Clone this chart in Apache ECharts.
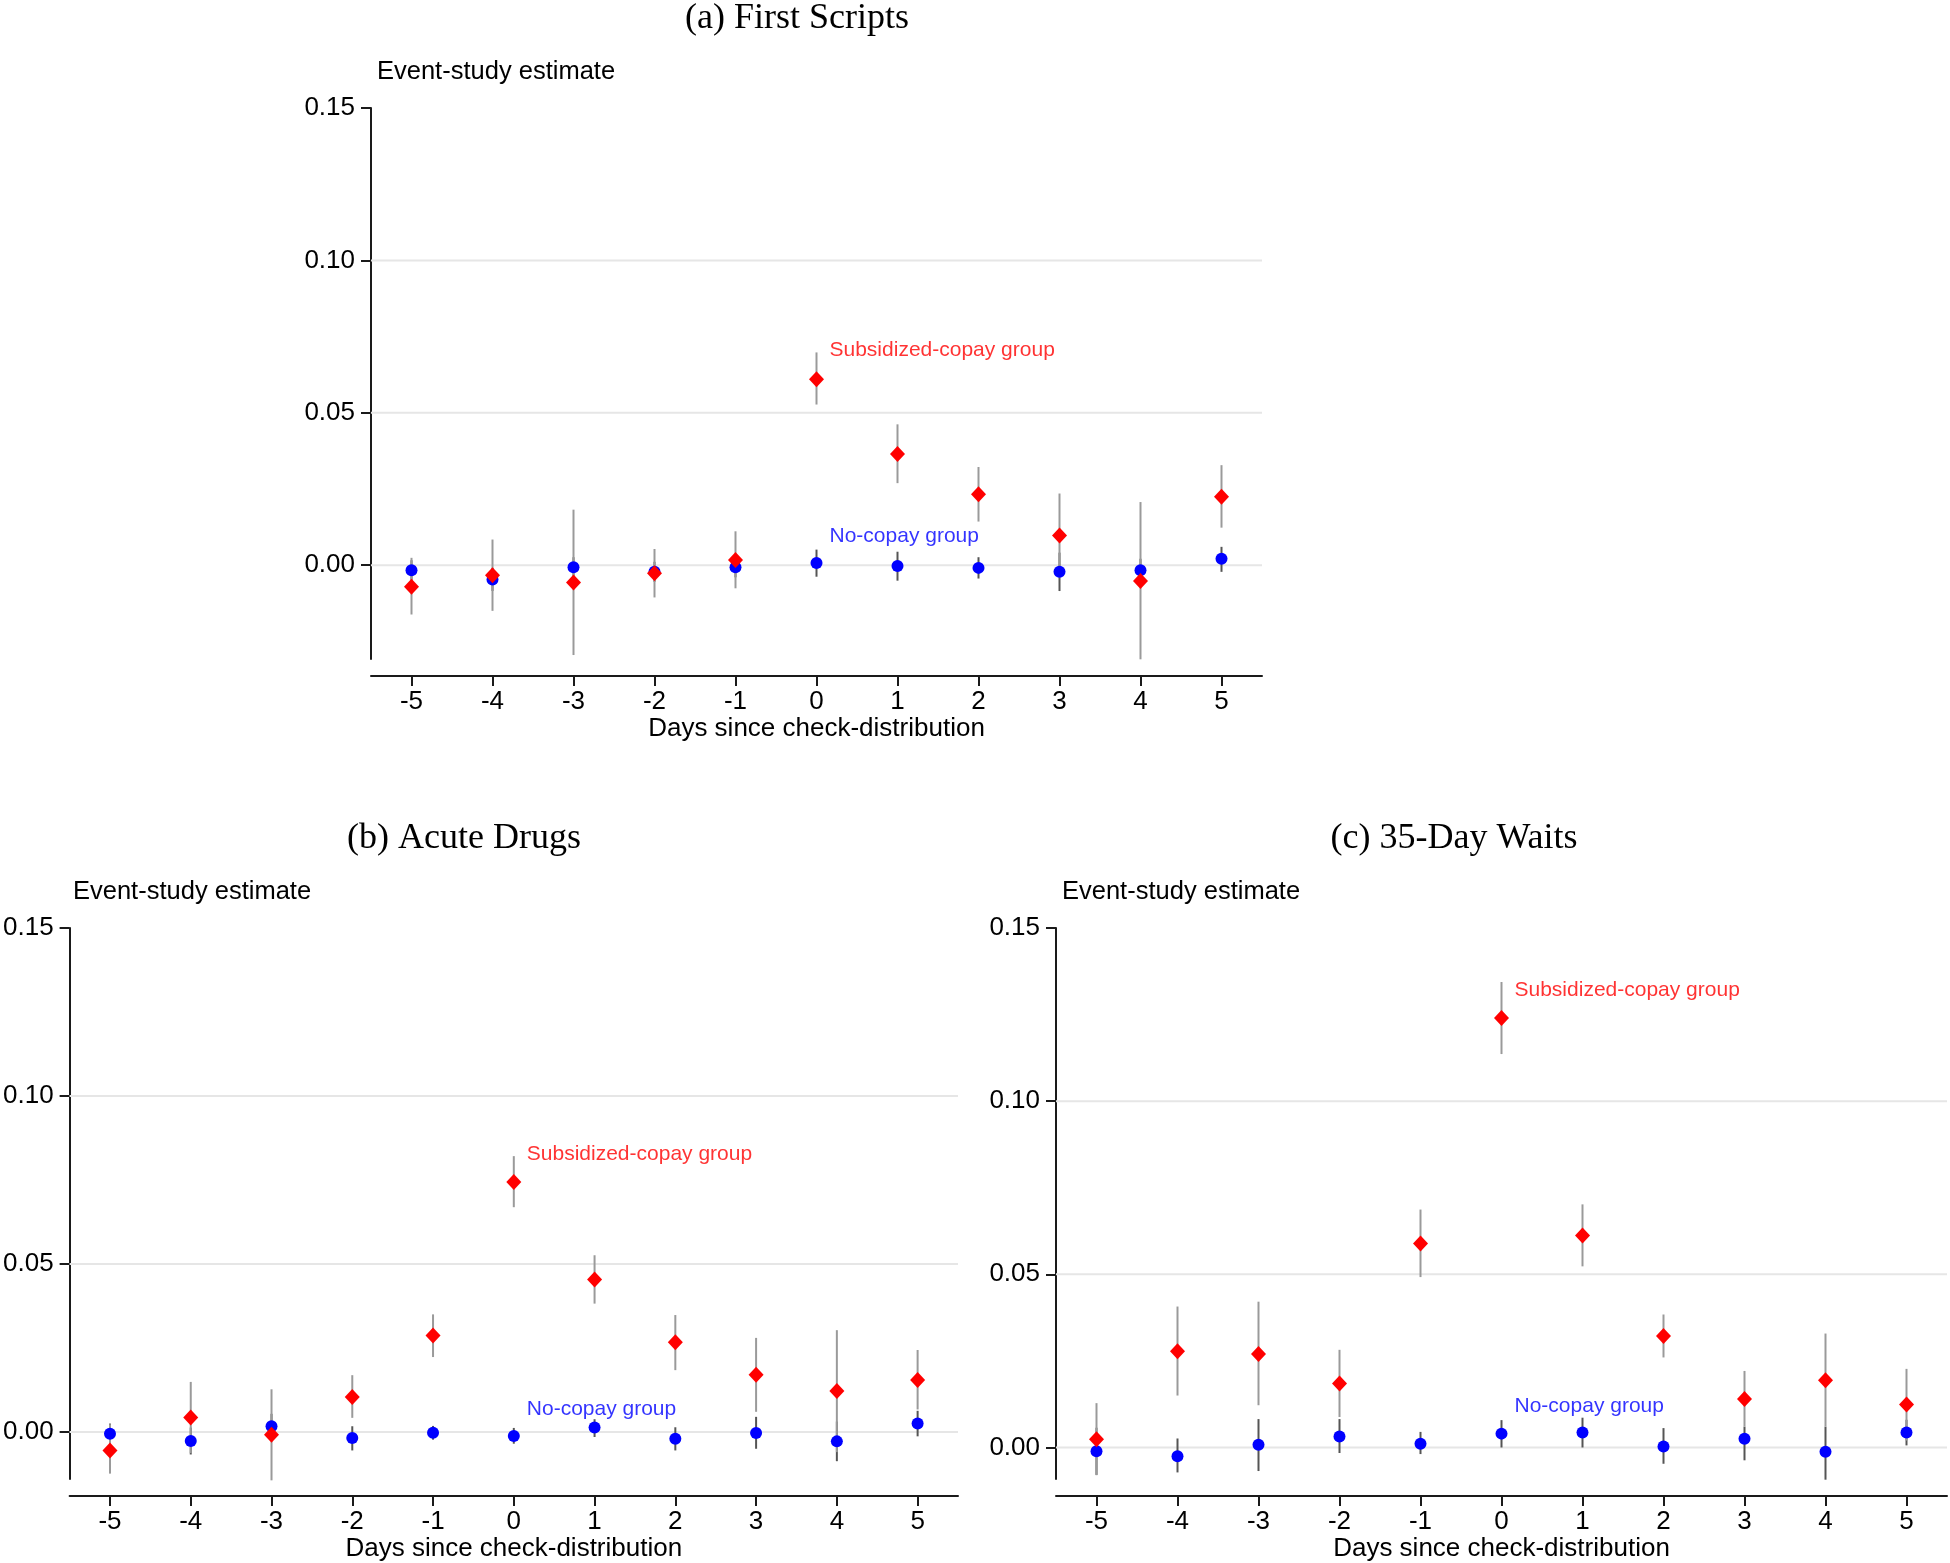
<!DOCTYPE html>
<html>
<head>
<meta charset="utf-8">
<script src="https://cdn.jsdelivr.net/npm/echarts@6/dist/echarts.min.js"></script>
<style>
html,body{margin:0;padding:0;background:#fff;}
#chart{width:1950px;height:1563px;}
</style>
</head>
<body>
<div id="chart"></div>
<script>
// ---------- data ----------
const days = ['-5', '-4', '-3', '-2', '-1', '0', '1', '2', '3', '4', '5'];
const yTickValues = [0, 0.05, 0.10, 0.15];
const gridLineValues = [0, 0.05, 0.10];
const panelTitles = ['(a) First Scripts', '(b) Acute Drugs', '(c) 35-Day Waits'];
const yAxisTitle = 'Event-study estimate';
const xAxisTitle = 'Days since check-distribution';
const subsidizedLabel = 'Subsidized-copay group';
const noCopayLabel = 'No-copay group';

// (a) First Scripts
const redA    = [-0.0071, -0.0033, -0.0057, -0.0027, 0.0017, 0.0610, 0.0365, 0.0233, 0.0097, -0.0052, 0.0224];
const redA_lo = [-0.0162, -0.0150, -0.0295, -0.0106, -0.0076, 0.0527, 0.0269, 0.0143, -0.0040, -0.0309, 0.0123];
const redA_hi = [0.0024, 0.0084, 0.0182, 0.0053, 0.0111, 0.0698, 0.0462, 0.0322, 0.0235, 0.0207, 0.0328];
const blueA    = [-0.0017, -0.0047, -0.0007, -0.0022, -0.0007, 0.0007, -0.0003, -0.0009, -0.0022, -0.0017, 0.0021];
const blueA_lo = [-0.0050, -0.0085, -0.0040, -0.0055, -0.0040, -0.0038, -0.0051, -0.0044, -0.0085, -0.0055, -0.0022];
const blueA_hi = [0.0016, -0.0009, 0.0026, 0.0011, 0.0026, 0.0051, 0.0044, 0.0026, 0.0041, 0.0021, 0.0060];
const annotA = [0.0705, 0.0094]; // label heights at day 0: subsidized, no-copay

// (b) Acute Drugs
const redB    = [-0.0055, 0.0043, -0.0008, 0.0104, 0.0287, 0.0744, 0.0454, 0.0267, 0.0170, 0.0122, 0.0155];
const redB_lo = [-0.0124, -0.0063, -0.0144, 0.0042, 0.0223, 0.0669, 0.0382, 0.0184, 0.0060, -0.0060, 0.0067];
const redB_hi = [0.0023, 0.0149, 0.0127, 0.0169, 0.0350, 0.0821, 0.0526, 0.0348, 0.0280, 0.0303, 0.0244];
const blueB    = [-0.0005, -0.0027, 0.0017, -0.0018, -0.0002, -0.0012, 0.0013, -0.0020, -0.0003, -0.0028, 0.0025];
const blueB_lo = [-0.0035, -0.0067, -0.0020, -0.0055, -0.0023, -0.0035, -0.0015, -0.0055, -0.0050, -0.0087, -0.0013];
const blueB_hi = [0.0025, 0.0013, 0.0054, 0.0017, 0.0018, 0.0012, 0.0038, 0.0014, 0.0045, 0.0031, 0.0063];
const annotB = [0.0828, 0.0069];

// (c) 35-Day Waits
const redC    = [0.0024, 0.0278, 0.0270, 0.0185, 0.0589, 0.1240, 0.0612, 0.0322, 0.0140, 0.0194, 0.0124];
const redC_lo = [-0.0080, 0.0150, 0.0122, 0.0088, 0.0492, 0.1136, 0.0523, 0.0260, 0.0060, 0.0060, 0.0020];
const redC_hi = [0.0128, 0.0407, 0.0421, 0.0282, 0.0687, 0.1344, 0.0702, 0.0384, 0.0221, 0.0329, 0.0227];
const blueC    = [-0.0011, -0.0025, 0.0008, 0.0032, 0.0011, 0.0040, 0.0043, 0.0003, 0.0025, -0.0012, 0.0043];
const blueC_lo = [-0.0079, -0.0072, -0.0068, -0.0016, -0.0019, 0.0000, 0.0000, -0.0047, -0.0037, -0.0093, 0.0006];
const blueC_hi = [0.0057, 0.0026, 0.0082, 0.0082, 0.0045, 0.0079, 0.0086, 0.0056, 0.0060, 0.0060, 0.0080];
const annotC = [0.1320, 0.0119];

// ---------- layout / styles ----------
const SANS = "'Liberation Sans', Arial, Helvetica, sans-serif";
const SERIF = "'Liberation Serif', 'Times New Roman', serif";
const AXIS_COLOR = '#1a1a1a';
const RED = '#ff0000';
const BLUE = '#0000ff';
const RED_CI = '#9a9a9a';
const BLUE_CI = '#555555';
const GRID_COLOR = '#e6e6e6';

const panels = [
  { red: redA, redLo: redA_lo, redHi: redA_hi, blue: blueA, blueLo: blueA_lo, blueHi: blueA_hi, annot: annotA,
    grid: { left: 371, top: 108, width: 891, height: 551 }, ymin: -0.0308,
    titlePos: [797, 19], yTitlePos: [377, 72] },
  { red: redB, redLo: redB_lo, redHi: redB_hi, blue: blueB, blueLo: blueB_lo, blueHi: blueB_hi, annot: annotB,
    grid: { left: 67, top: 928, width: 891, height: 551 }, ymin: -0.0140,
    titlePos: [464, 839], yTitlePos: [73, 892] },
  { red: redC, redLo: redC_lo, redHi: redC_hi, blue: blueC, blueLo: blueC_lo, blueHi: blueC_hi, annot: annotC,
    grid: { left: 1056, top: 928, width: 891, height: 551 }, ymin: -0.0091,
    titlePos: [1454, 839], yTitlePos: [1062, 892] }
];

function ciRenderer(color) {
  return function (params, api) {
    const x = api.value(0);
    const p1 = api.coord([x, api.value(1)]);
    const p2 = api.coord([x, api.value(2)]);
    return { type: 'line', shape: { x1: p1[0], y1: p1[1], x2: p2[0], y2: p2[1] },
             style: { stroke: color, lineWidth: 2 } };
  };
}
function gridRenderer(params, api) {
  const y = api.coord([0, api.value(1)])[1];
  const cs = params.coordSys;
  return { type: 'line', shape: { x1: cs.x, y1: y, x2: cs.x + cs.width, y2: y },
           style: { stroke: GRID_COLOR, lineWidth: 2 } };
}

const grids = [], xAxes = [], yAxes = [], series = [], graphics = [];

panels.forEach((p, k) => {
  grids.push(Object.assign({ containLabel: false }, p.grid));
  xAxes.push({
    gridIndex: k, type: 'category', data: days, boundaryGap: true, offset: 17,
    axisLine: { show: true, onZero: false, lineStyle: { color: AXIS_COLOR, width: 2 } },
    axisTick: { show: true, alignWithLabel: true, length: 10, lineStyle: { color: AXIS_COLOR, width: 2 } },
    axisLabel: { show: true, color: '#000', fontSize: 26, fontFamily: SANS, margin: 13, interval: 0 },
    splitLine: { show: false },
    name: xAxisTitle, nameLocation: 'middle', nameGap: 39,
    nameTextStyle: { color: '#000', fontSize: 26, fontFamily: SANS }
  });
  yAxes.push({
    gridIndex: k, type: 'value', min: p.ymin, max: 0.15,
    axisLine: { show: true, onZero: false, lineStyle: { color: AXIS_COLOR, width: 2 } },
    axisTick: { show: true, length: 10, customValues: yTickValues, lineStyle: { color: AXIS_COLOR, width: 2 } },
    axisLabel: { show: true, customValues: yTickValues, formatter: v => v.toFixed(2),
                 color: '#000', fontSize: 26, fontFamily: SANS, margin: 16 },
    splitLine: { show: false }
  });
  series.push({
    type: 'custom', xAxisIndex: k, yAxisIndex: k, z: 1, silent: true,
    renderItem: gridRenderer, data: gridLineValues.map(v => [0, v])
  });
  series.push({
    type: 'custom', xAxisIndex: k, yAxisIndex: k, z: 2, silent: true,
    renderItem: ciRenderer(BLUE_CI), data: days.map((d, i) => [i, p.blueLo[i], p.blueHi[i]])
  });
  series.push({
    type: 'custom', xAxisIndex: k, yAxisIndex: k, z: 3, silent: true,
    renderItem: ciRenderer(RED_CI), data: days.map((d, i) => [i, p.redLo[i], p.redHi[i]])
  });
  series.push({
    type: 'scatter', xAxisIndex: k, yAxisIndex: k, z: 4, silent: true,
    symbol: 'circle', symbolSize: 12, itemStyle: { color: BLUE, opacity: 1 },
    data: days.map((d, i) => [i, p.blue[i]])
  });
  series.push({
    type: 'scatter', xAxisIndex: k, yAxisIndex: k, z: 5, silent: true,
    symbol: 'diamond', symbolSize: [15, 16], itemStyle: { color: RED, opacity: 1 },
    data: days.map((d, i) => [i, p.red[i]])
  });
  series.push({
    type: 'scatter', xAxisIndex: k, yAxisIndex: k, z: 6, silent: true,
    symbolSize: 0,
    data: [
      { value: [5, p.annot[0]], label: { formatter: subsidizedLabel, color: RED } },
      { value: [5, p.annot[1]], label: { formatter: noCopayLabel, color: BLUE } }
    ],
    label: { show: true, position: 'right', distance: 13, fontSize: 21, fontFamily: SANS }
  });
  graphics.push({
    type: 'text', x: p.titlePos[0], y: p.titlePos[1],
    style: { text: panelTitles[k], font: '36px ' + SERIF, fill: '#000', align: 'center', verticalAlign: 'middle' }
  });
  graphics.push({
    type: 'text', x: p.yTitlePos[0], y: p.yTitlePos[1],
    style: { text: yAxisTitle, font: '25.5px ' + SANS, fill: '#000', align: 'left', verticalAlign: 'middle' }
  });
});

const chart = echarts.init(document.getElementById('chart'), null, { renderer: 'canvas' });
chart.setOption({
  backgroundColor: '#ffffff',
  animation: false,
  grid: grids, xAxis: xAxes, yAxis: yAxes, series: series, graphic: graphics
});
</script>
</body>
</html>
